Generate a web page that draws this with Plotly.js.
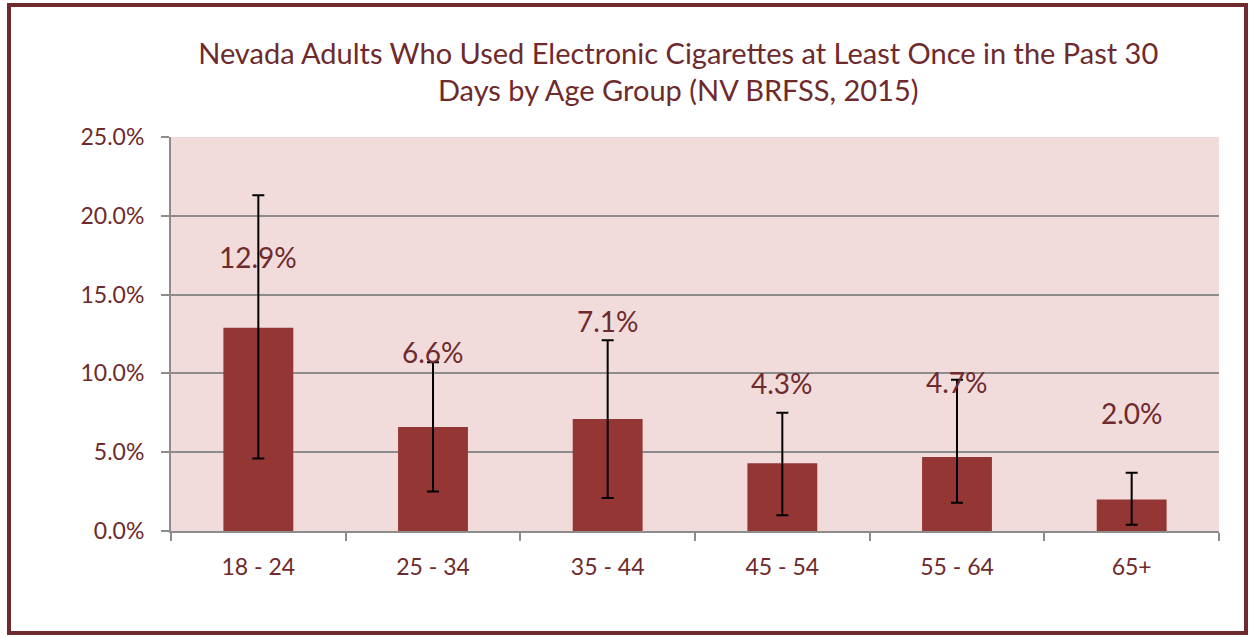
<!DOCTYPE html>
<html>
<head>
<meta charset="utf-8">
<script src="https://cdn.plot.ly/plotly-3.0.1.min.js"></script>
<style>
  html, body { margin: 0; padding: 0; background: #ffffff; }
  #wrap { position: relative; width: 1249px; height: 637px; }
  #chart { width: 1249px; height: 637px; }
  #frame { position: absolute; left: 7px; top: 3px; width: 1233px; height: 624px;
           border: 4px solid #6e2a2c; pointer-events: none; }
</style>
</head>
<body>
<div id="wrap">
  <div id="chart"></div>
  <div id="frame"></div>
</div>
<script>
// Data
const ageGroups = ["18 - 24", "25 - 34", "35 - 44", "45 - 54", "55 - 64", "65+"];
const prevalence = [12.9, 6.6, 7.1, 4.3, 4.7, 2.0];
const ciUpper = [21.3, 10.7, 12.1, 7.5, 9.6, 3.7];
const ciLower = [4.6, 2.5, 2.1, 1.0, 1.8, 0.4];
// heights (in % units) at which the data labels sit in the reference
const labelHeights = [17.4, 11.35, 13.3, 9.4, 9.45, 7.5];
const yTickVals = [0, 5, 10, 15, 20, 25];
const yTickText = ["0.0%", "5.0%", "10.0%", "15.0%", "20.0%", "25.0%"];
const titleText = "Nevada Adults Who Used Electronic Cigarettes at Least Once in the Past 30<br>Days by Age Group (NV BRFSS, 2015)";

const textColor = "#6e2a2c";
const fontFam = "Lato, 'Open Sans', sans-serif";

const trace = {
  type: "bar",
  x: ageGroups,
  y: prevalence,
  marker: { color: "#943634" },
  error_y: {
    type: "data",
    symmetric: false,
    array: ciUpper.map((u, i) => u - prevalence[i]),
    arrayminus: ciLower.map((l, i) => prevalence[i] - l),
    color: "#000000",
    thickness: 2,
    width: 6
  },
  hoverinfo: "x+y"
};

const annotations = ageGroups.map((g, i) => ({
  x: g,
  y: labelHeights[i],
  xref: "x",
  yref: "y",
  text: prevalence[i].toFixed(1) + "%",
  showarrow: false,
  font: { family: fontFam, size: 28, color: textColor }
}));

const layout = {
  width: 1249,
  height: 637,
  margin: { l: 171, r: 30, t: 137, b: 106 },
  paper_bgcolor: "#ffffff",
  plot_bgcolor: "#f2dcdb",
  bargap: 0.6,
  showlegend: false,
  title: {
    text: titleText,
    font: { family: fontFam, size: 29, color: textColor },
    x: 0.543,
    xanchor: "center",
    y: 0.9,
    yanchor: "top"
  },
  xaxis: {
    type: "category",
    showline: true,
    linecolor: "#8c8c8c",
    linewidth: 2,
    ticks: "outside",
    tickson: "boundaries",
    ticklen: 8,
    tickcolor: "#8c8c8c",
    tickwidth: 2,
    ticklabelstandoff: 14,
    tickfont: { family: fontFam, size: 23, color: textColor },
    showgrid: false,
    zeroline: false
  },
  yaxis: {
    range: [0, 25],
    tickvals: yTickVals,
    ticktext: yTickText,
    showline: true,
    linecolor: "#8c8c8c",
    linewidth: 2,
    ticks: "outside",
    ticklen: 8,
    tickcolor: "#8c8c8c",
    tickwidth: 2,
    ticklabelstandoff: 12,
    tickfont: { family: fontFam, size: 23, color: textColor },
    showgrid: true,
    gridcolor: "#8c8c8c",
    gridwidth: 2,
    zeroline: false
  },
  annotations: annotations
};

Plotly.newPlot("chart", [trace], layout, { displayModeBar: false });
</script>
</body>
</html>
